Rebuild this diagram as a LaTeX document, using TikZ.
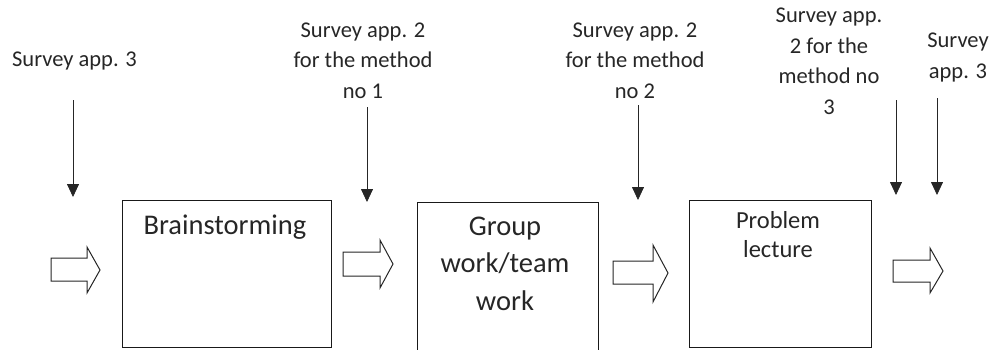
\documentclass[tikz,border=0pt]{standalone}
\usepackage{fontspec}
\setmainfont{Carlito}
\usetikzlibrary{arrows.meta}
\begin{document}
\begin{tikzpicture}[x=1pt,y=-1pt,
  stagebox/.style={draw=black!90, line width=1pt},
  stagetext/.style={align=center, anchor=base, text=black!85,
    font=\fontsize{28.5}{37.5}\selectfont, inner sep=0pt},
  probelabel/.style={align=center, anchor=base, text=black!85,
    font=\fontsize{22.5}{30.5}\selectfont, inner sep=0pt},
  probe/.style={draw=black!85, line width=0.8pt,
    -{Triangle[width=12pt,length=13pt]}},
  hollow/.style={draw=black!85, line width=1pt, fill=white, line join=miter}]
  \path[use as bounding box, clip] (0,0) rectangle (991,349);

  % stage boxes
  \draw[stagebox] (122,200) rectangle (331,347.5);
  \draw[stagebox] (417,202) rectangle (598,360);
  \draw[stagebox] (689,200) rectangle (871,347.5);

  % stage names (anchored at the baseline of their last line)
  \node[stagetext] (brain) at (225,234) {Brainstorming};
  \node[stagetext] (group) at (505,310) {Group\\work/team\\work};
  \node[stagetext, font=\fontsize{24.5}{28.5}\selectfont] (lecture) at (778,257) {Problem\\lecture};

  % survey labels
  \node[probelabel] (s0) at (74.5,66) {Survey app. 3};
  \node[probelabel] (s1) at (363,98) {Survey app. 2\\for the method\\no 1};
  \node[probelabel] (s2) at (635,98) {Survey app. 2\\for the method\\no 2};
  \node[probelabel] (s3) at (829,114) {Survey app.\\2 for the\\method no\\3};
  \node[probelabel] (s4) at (958,78) {Survey\\app. 3};

  % survey arrows
  \coordinate (p0a) at (73,100);  \coordinate (p0b) at (73,197);
  \coordinate (p1a) at (367,107); \coordinate (p1b) at (367,202);
  \coordinate (p2a) at (638,105); \coordinate (p2b) at (638,200);
  \coordinate (p3a) at (896,100); \coordinate (p3b) at (896,195);
  \coordinate (p4a) at (937,98);  \coordinate (p4b) at (937,195);
  \draw[probe] (p0a) -- (p0b);
  \draw[probe] (p1a) -- (p1b);
  \draw[probe] (p2a) -- (p2b);
  \draw[probe] (p3a) -- (p3b);
  \draw[probe] (p4a) -- (p4b);

  % block arrows between the stages
  \draw[hollow] (51,258) -- (87,258) -- (87,247) -- (100,270) -- (87,293) -- (87,281) -- (51,281) -- cycle;
  \draw[hollow] (343,252) -- (380,252) -- (380,240) -- (393,264) -- (380,288) -- (380,276) -- (343,276) -- cycle;
  \draw[hollow] (613,261) -- (653,261) -- (653,245) -- (668,273) -- (653,302) -- (653,284) -- (613,284) -- cycle;
  \draw[hollow] (893,260) -- (930,260) -- (930,248) -- (943,271) -- (930,293) -- (930,282) -- (893,282) -- cycle;
\end{tikzpicture}
\end{document}
